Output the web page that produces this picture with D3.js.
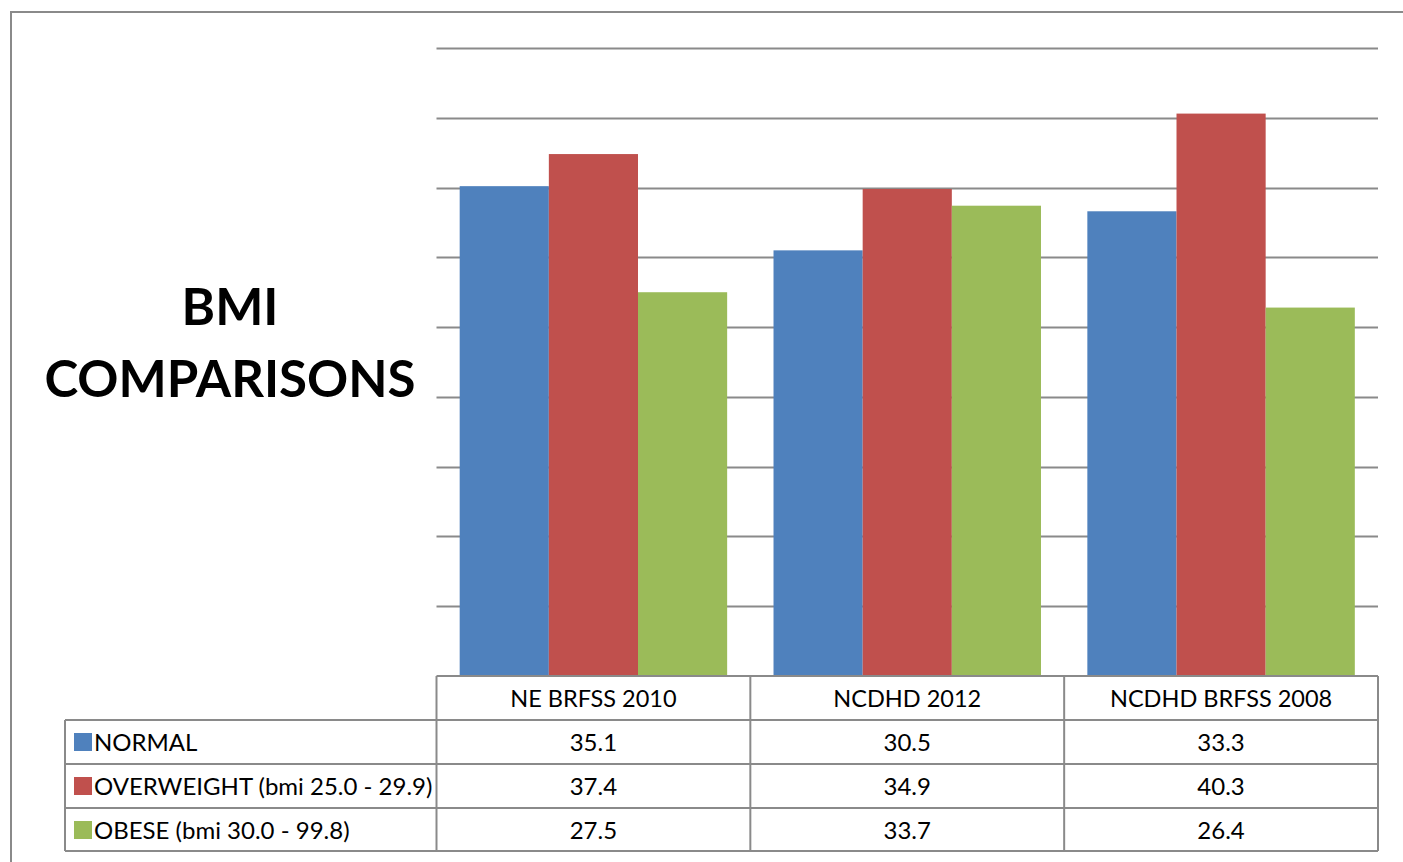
<!DOCTYPE html>
<html><head><meta charset="utf-8">
<script src="https://cdn.jsdelivr.net/npm/d3@7"></script>
<style>html,body{margin:0;padding:0;background:#fff;}svg{display:block;}</style>
</head><body>
<svg id="c" width="1403" height="862"></svg>
<script>
const categories = ["NE BRFSS 2010", "NCDHD 2012", "NCDHD BRFSS 2008"];
const seriesNames = ["NORMAL", "OVERWEIGHT (bmi 25.0 - 29.9)", "OBESE (bmi 30.0 - 99.8)"];
const normal = [35.1, 30.5, 33.3];
const overweight = [37.4, 34.9, 40.3];
const obese = [27.5, 33.7, 26.4];
const seriesColors = ["#4F81BD", "#C0504D", "#9BBB59"];
const yTicks = [0, 5, 10, 15, 20, 25, 30, 35, 40, 45];
const titleLines = ["BMI", "COMPARISONS"];

const series = [normal, overweight, obese];
const svg = d3.select("#c");
const font = "Lato, 'Open Sans', sans-serif";
const grey = "#8a8a8a";

// outer border
svg.append("path").attr("d", "M11,866 L11,12 L1410,12")
  .attr("fill", "none").attr("stroke", grey).attr("stroke-width", 2);

const plotL = 436.5, plotR = 1378, plotT = 48, plotB = 676;
const x0 = d3.scaleBand().domain(categories).range([plotL, plotR]).padding(0);
const x1 = d3.scaleBand().domain(d3.range(3)).range([0, x0.bandwidth()]).paddingInner(0).paddingOuter(0.26);
const y = d3.scaleLinear().domain([0, 45]).range([plotB, plotT]);

// gridlines
svg.append("g").selectAll("line").data(yTicks.filter(d => d > 0)).join("line")
  .attr("x1", plotL).attr("x2", plotR)
  .attr("y1", d => Math.round(y(d)) + 0.5).attr("y2", d => Math.round(y(d)) + 0.5)
  .attr("stroke", grey).attr("stroke-width", 2);

// bars
const g = svg.append("g");
categories.forEach((c, ci) => {
  series.forEach((s, si) => {
    g.append("rect")
      .attr("x", x0(c) + x1(si))
      .attr("y", y(s[ci]))
      .attr("width", x1.bandwidth())
      .attr("height", plotB - y(s[ci]))
      .attr("fill", seriesColors[si]);
  });
});

// title
const title = svg.append("text").attr("font-family", font).attr("font-weight", "bold")
  .attr("font-size", 51).attr("text-anchor", "middle").attr("fill", "#000");
title.append("tspan").attr("x", 230).attr("y", 325).text(titleLines[0]);
title.append("tspan").attr("x", 230).attr("y", 397).text(titleLines[1]);

// data table
const rowH = 44;
const tableTop = plotB, tableLeft = 65;
const rowsY = [tableTop, tableTop + rowH, tableTop + 2 * rowH, tableTop + 3 * rowH, tableTop + 4 * rowH - 1];
const tg = svg.append("g").attr("stroke", grey).attr("stroke-width", 2).attr("fill", "none");
tg.append("line").attr("x1", plotL).attr("x2", plotR).attr("y1", rowsY[0]).attr("y2", rowsY[0]);
for (let i = 1; i < rowsY.length; i++) {
  tg.append("line").attr("x1", tableLeft).attr("x2", plotR).attr("y1", rowsY[i]).attr("y2", rowsY[i]);
}
tg.append("line").attr("x1", tableLeft).attr("x2", tableLeft).attr("y1", rowsY[1]).attr("y2", rowsY[4]);
const colEdges = categories.map(c => x0(c)).concat([plotR]);
colEdges.forEach(xv => {
  tg.append("line").attr("x1", xv).attr("x2", xv).attr("y1", rowsY[0]).attr("y2", rowsY[4]);
});

const fs = 24;
// header labels
svg.append("g").selectAll("text").data(categories).join("text")
  .attr("x", d => x0(d) + x0.bandwidth() / 2).attr("y", tableTop + 31)
  .attr("text-anchor", "middle").attr("font-family", font).attr("font-size", 23.5).attr("fill", "#000")
  .text(d => d);

// rows
series.forEach((s, si) => {
  const ry = rowsY[si + 1];
  svg.append("rect").attr("x", 74).attr("y", ry + 13).attr("width", 18).attr("height", 18).attr("fill", seriesColors[si]);
  svg.append("text").attr("x", 94).attr("y", ry + 31).attr("font-family", font).attr("font-size", fs)
    .attr("fill", "#000").text(seriesNames[si]);
  categories.forEach((c, ci) => {
    svg.append("text").attr("x", x0(c) + x0.bandwidth() / 2).attr("y", ry + 31)
      .attr("text-anchor", "middle").attr("font-family", font).attr("font-size", fs).attr("fill", "#000")
      .text(s[ci].toFixed(1));
  });
});
</script>
</body></html>
